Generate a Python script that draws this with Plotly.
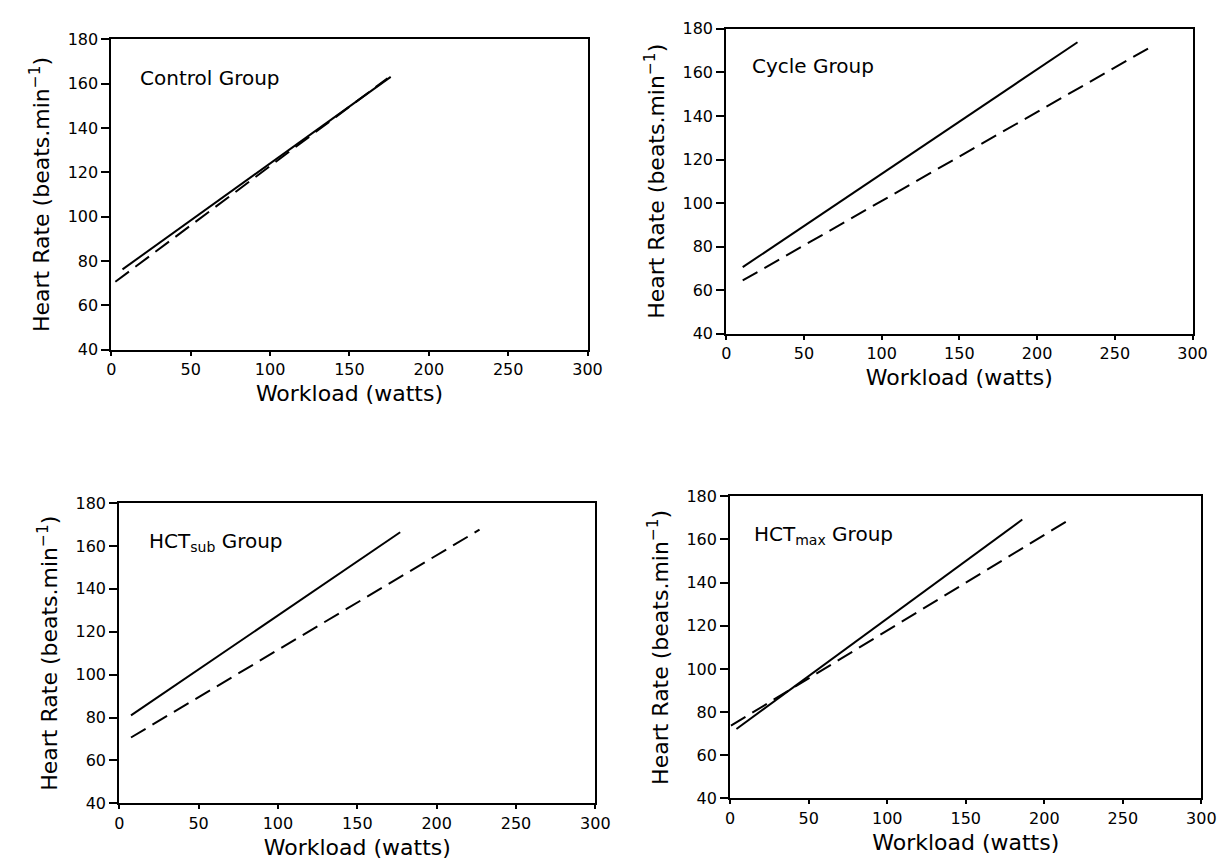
import plotly.graph_objects as go

# ---- data ----
panel_titles = ["Control Group", "Cycle Group", "HCT<sub>sub</sub> Group", "HCT<sub>max</sub> Group"]

control_solid_x = [7, 176]
control_solid_y = [76.2, 163.1]
control_dash_x = [2.5, 174]
control_dash_y = [70.6, 162.5]

cycle_solid_x = [10.6, 226]
cycle_solid_y = [70.6, 173.8]
cycle_dash_x = [10.6, 275]
cycle_dash_y = [64.5, 172.4]

hctsub_solid_x = [7.4, 177]
hctsub_solid_y = [81.0, 166.4]
hctsub_dash_x = [7.4, 227]
hctsub_dash_y = [70.7, 167.6]

hctmax_solid_x = [4, 186]
hctmax_solid_y = [72.2, 169.2]
hctmax_dash_x = [0.5, 214]
hctmax_dash_y = [73.7, 168.3]

x_ticks = [0, 50, 100, 150, 200, 250, 300]
y_ticks = [40, 60, 80, 100, 120, 140, 160, 180]
x_title = "Workload (watts)"
y_title = "Heart Rate (beats.min<sup>\u22121</sup>)"

series = [
    (control_solid_x, control_solid_y, control_dash_x, control_dash_y),
    (cycle_solid_x, cycle_solid_y, cycle_dash_x, cycle_dash_y),
    (hctsub_solid_x, hctsub_solid_y, hctsub_dash_x, hctsub_dash_y),
    (hctmax_solid_x, hctmax_solid_y, hctmax_dash_x, hctmax_dash_y),
]

W, H = 1231, 865
# plot-area boxes in pixels (left, right, top, bottom)
boxes = [(100, 584, 23, 340), (725, 1199, 12, 324), (108, 592, 497, 804), (729, 1208, 490, 799)]
label_pos = [(16.7, 162.8), (15.6, 163.1), (17.2, 162.0), (13.9, 162.0)]

FONT = "DejaVu Sans"
fig = go.Figure()
layout = dict(
    width=W, height=H, margin=dict(l=0, r=0, t=0, b=0),
    paper_bgcolor="white", plot_bgcolor="white", showlegend=False,
    font=dict(family=FONT, color="black"),
)
annotations = []
for i, (sx, sy, dx, dy) in enumerate(series):
    n = "" if i == 0 else str(i + 1)
    xa, ya = "x" + n, "y" + n
    fig.add_trace(go.Scatter(x=sx, y=sy, mode="lines", xaxis=xa, yaxis=ya,
                             line=dict(color="black", width=2)))
    fig.add_trace(go.Scatter(x=dx, y=dy, mode="lines", xaxis=xa, yaxis=ya,
                             line=dict(color="black", width=2, dash="17px,8px")))
    l, r, t, b = boxes[i]
    layout["xaxis" + n] = dict(
        domain=[l / W, r / W], anchor=ya, range=[0, 300], tickvals=x_ticks,
        showline=True, linecolor="black", linewidth=2, mirror=True,
        ticks="outside", ticklen=4, tickwidth=2, tickcolor="black",
        showgrid=False, zeroline=False, tickfont=dict(size=16, family=FONT),
        title=dict(text=x_title, font=dict(size=22, family=FONT), standoff=8),
    )
    layout["yaxis" + n] = dict(
        domain=[1 - b / H, 1 - t / H], anchor=xa, range=[40, 180], tickvals=y_ticks,
        showline=True, linecolor="black", linewidth=2, mirror=True,
        ticks="outside", ticklen=8, tickwidth=2, tickcolor="black",
        showgrid=False, zeroline=False, tickfont=dict(size=16, family=FONT),
        title=dict(text=y_title, font=dict(size=22, family=FONT), standoff=12),
    )
    ax, ay = label_pos[i]
    annotations.append(dict(x=ax, y=ay, xref=xa, yref=ya, text=panel_titles[i],
                            showarrow=False, xanchor="left", yanchor="middle",
                            font=dict(size=20, family=FONT)))
layout["annotations"] = annotations
fig.update_layout(**layout)
fig.write_html("out.html")
